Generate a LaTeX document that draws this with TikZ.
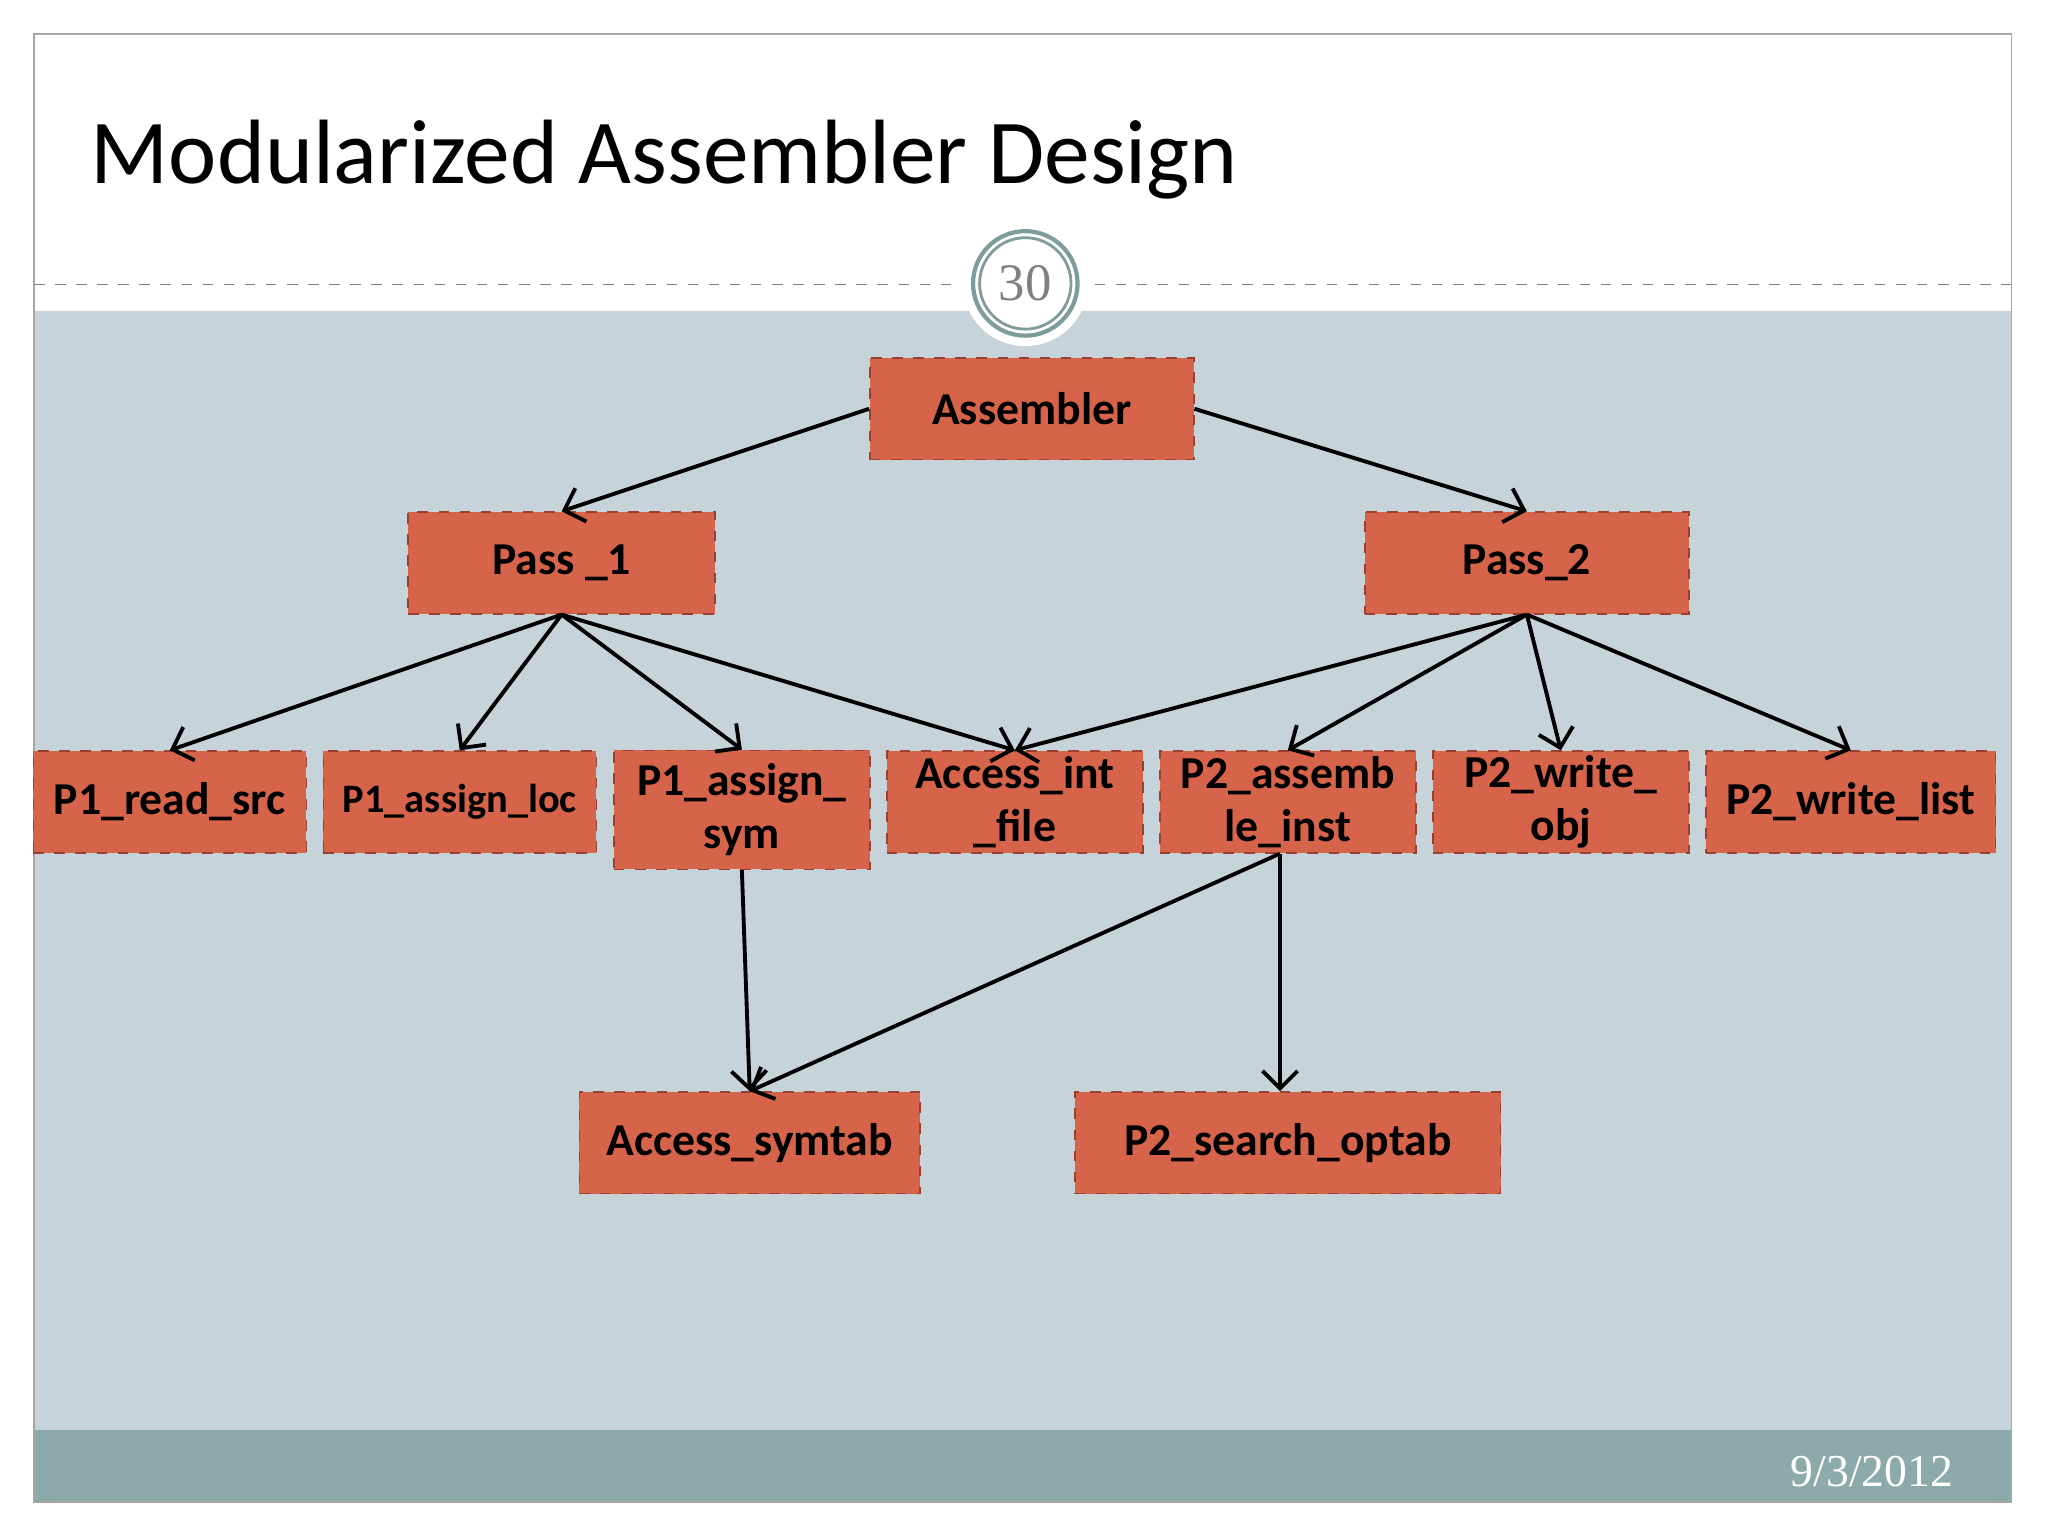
\documentclass[tikz,border=0pt]{standalone}
\usepackage{fontspec}
\setmainfont{Carlito}
\usetikzlibrary{arrows.meta}
\definecolor{boxfill}{HTML}{D5644B}
\definecolor{boxline}{HTML}{9A4030}
\definecolor{panel}{HTML}{C6D3D9}
\definecolor{footbar}{HTML}{8DAAAA}
\definecolor{ring}{HTML}{7E9C9B}
\tikzset{
  box/.style={draw=boxline, dashed, fill=boxfill, rectangle, font=\bfseries\fontsize{13}{15}\selectfont,
    align=center, inner sep=0pt, minimum height=78*0.01306cm},
  link/.style={draw=black, line width=1.1pt, -{Straight Barb[length=5pt,width=10pt]}}
}
\begin{document}
\begin{tikzpicture}[x=0.01306cm, y=-0.01306cm]
		\useasboundingbox (0,0) rectangle (1568,1176);
		\fill[white] (0,0) rectangle (1568,1176);
		\fill[panel] (26,238) rectangle (1540,1095);
		\fill[footbar] (26,1095) rectangle (1540,1150);
		\draw[gray!70] (26,26) rectangle (1540,1150);
		\draw[gray, dashed] (26,218) -- (730,218);
		\draw[gray, dashed] (838,218) -- (1540,218);
		\fill[white] (785,217) circle (48);
		\draw[ring, line width=1.2pt] (785,217) circle (40);
		\draw[ring, line width=0.8pt] (785,217) circle (35);
		\node (num) at (785,217) {\fontspec{Liberation Serif}\color{gray}\fontsize{15}{17}\selectfont 30};
		\node (title) [anchor=west] at (60,122) {\fontsize{26}{31}\selectfont Modularized Assembler Design};
		\node (date) [anchor=east] at (1505,1127) {\fontspec{Liberation Serif}\color{white}\fontsize{13}{15}\selectfont 9/3/2012};

		\node (asm) [box, minimum width=248*0.01306cm] at (790,313) {Assembler};
		\node (pass1) [box, minimum width=235*0.01306cm] at (430,431) {Pass \_1};
		\node (pass2) [box, minimum width=248*0.01306cm] at (1169,431) {Pass\_2};
		\node (rdsrc) [box, minimum width=209*0.01306cm] at (130,614) {P1\_read\_src};
		\node (asloc) [box, minimum width=209*0.01306cm, font=\bfseries\fontsize{11.5}{14}\selectfont] at (352,614) {P1\_assign\_loc};
		\node (assym) [box, minimum width=196*0.01306cm, minimum height=91*0.01306cm] at (568,620) {P1\_assign\_\\sym};
		\node (intfile) [box, minimum width=196*0.01306cm] at (777,614) {Access\_int\\\_file};
		\node (asinst) [box, minimum width=196*0.01306cm] at (986,614) {P2\_assemb\\le\_inst};
		\node (wrobj) [box, minimum width=196*0.01306cm] at (1195,614) {P2\_write\_\\obj};
		\node (wrlist) [box, minimum width=222*0.01306cm] at (1417,614) {P2\_write\_list};
		\node (symtab) [box, minimum width=261*0.01306cm] at (574,875) {Access\_symtab};
		\node (optab) [box, minimum width=326*0.01306cm] at (986,875) {P2\_search\_optab};

		% Arrows
		\draw[link] (asm.west) -- (pass1.north);
		\draw[link] (asm.east) -- (pass2.north);
		\draw[link] (pass1.south) -- (rdsrc.north);
		\draw[link] (pass1.south) -- (asloc.north);
		\draw[link] (pass1.south) -- (assym.north);
		\draw[link] (pass1.south) -- (intfile.north);
		\draw[link] (pass2.south) -- (intfile.north);
		\draw[link] (pass2.south) -- (asinst.north);
		\draw[link] (pass2.south) -- (wrobj.north);
		\draw[link] (pass2.south) -- (wrlist.north);
		\draw[link] (assym.south) -- (symtab.north);
		\draw[link] ([xshift=-6*0.01306cm]asinst.south) -- (symtab.north);
		\draw[link] ([xshift=-6*0.01306cm]asinst.south) -- ([xshift=-6*0.01306cm]optab.north);
	\end{tikzpicture}
\end{document}
